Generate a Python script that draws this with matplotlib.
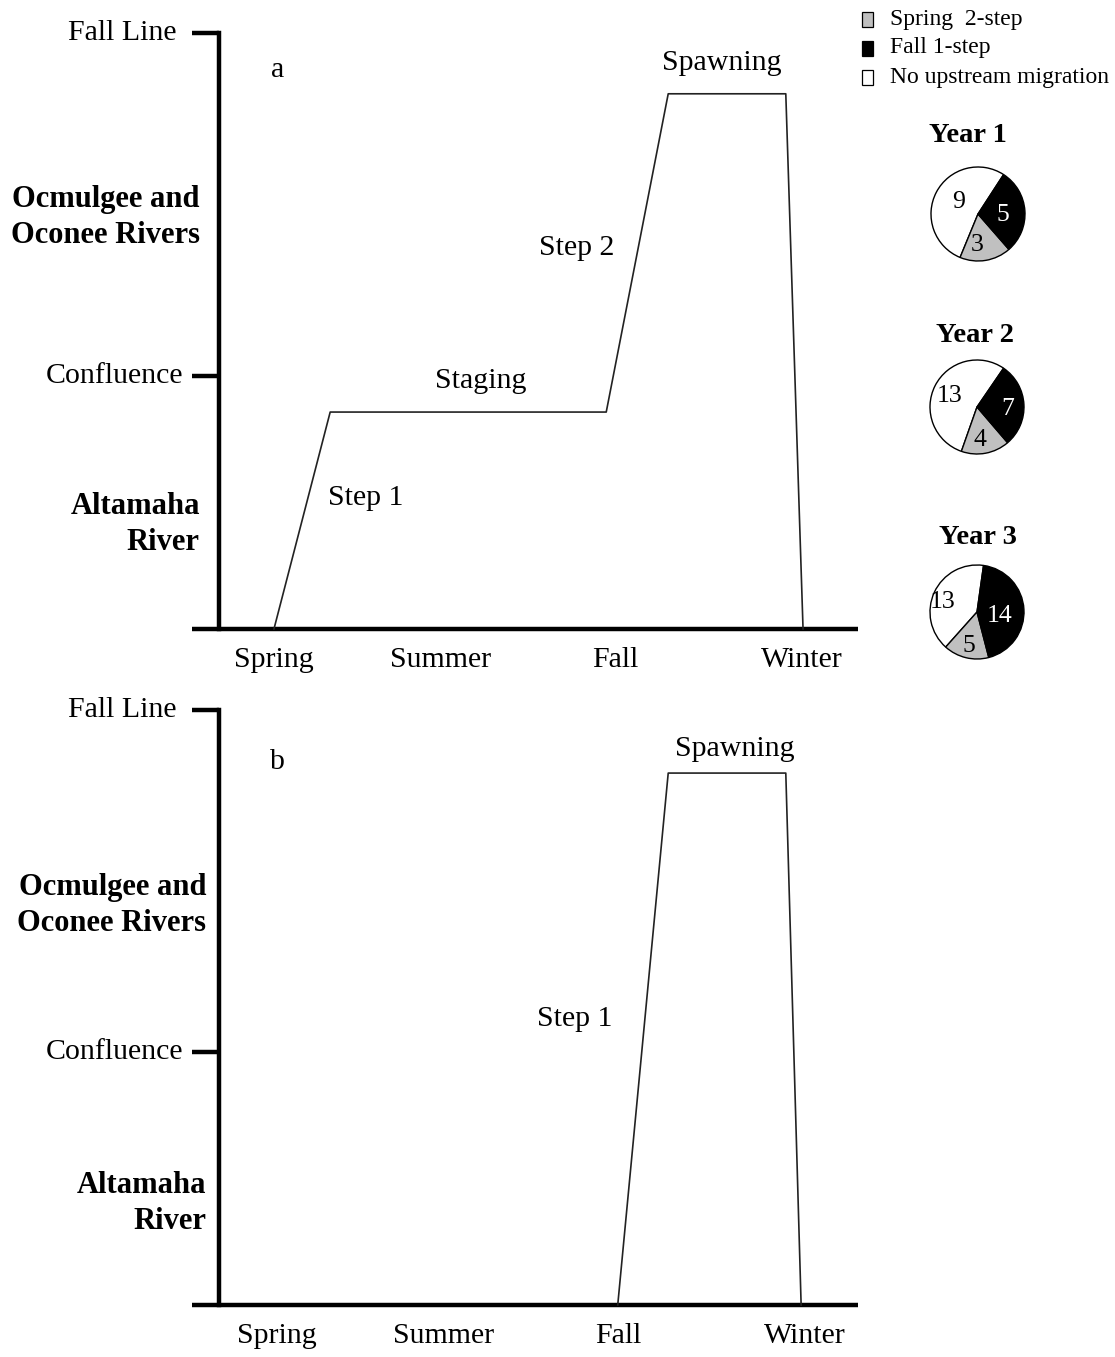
import matplotlib
matplotlib.use("Agg")
import matplotlib.pyplot as plt
from matplotlib.patches import Rectangle
import numpy as np

plt.rcParams['font.family'] = ['Liberation Serif', 'DejaVu Serif']

W, H = 1115, 1357

# ---- data ----
seasons = ["Spring", "Summer", "Fall", "Winter"]
season_time = [8.6, 34.7, 62.0, 91.2]

river_levels = ["Confluence", "Fall Line"]
river_level_pos = [0.425, 1.0]

# panel a: two-step spring migration (time, relative river position)
a_time = [8.6, 17.4, 60.6, 70.3, 88.7, 91.4]
a_pos = [0.0, 0.364, 0.364, 0.898, 0.898, 0.0]

# panel b: one-step fall migration
b_time = [62.4, 70.3, 88.7, 91.1]
b_pos = [0.0, 0.894, 0.894, 0.0]

years = ["Year 1", "Year 2", "Year 3"]
no_upstream = [9, 13, 13]
spring_2step = [3, 4, 5]
fall_1step = [5, 7, 14]

legend_labels = ["Spring  2-step", "Fall 1-step", "No upstream migration"]
colors = {"spring": "#c0c0c0", "fall": "#000000", "none": "#ffffff"}

# ---- layout helpers ----
fig = plt.figure(figsize=(W / 100, H / 100), dpi=100)


def fx(x):
    return x / W


def fy(y):
    return 1 - y / H


FS = 21.5
FSB = 22


def draw_panel(top_px, bottom_px, times, pos, letter, letter_xy, notes,
               region_right, region_y, season_shift):
    left_px, right_px = 219, 858
    ax = fig.add_axes([fx(left_px), fy(bottom_px), (right_px - left_px) / W,
                       (bottom_px - top_px) / H])
    ax.set_xlim(0, 100)
    ax.set_ylim(0, 1)
    ax.axis("off")
    unit = (right_px - left_px) / 100.0
    tick = 27 / unit
    # axes frame
    ax.plot([-tick, 100], [0, 0], color="black", lw=3.2, clip_on=False,
            solid_capstyle="butt")
    ax.plot([0, 0], [0, 1], color="black", lw=3.2, clip_on=False,
            solid_capstyle="projecting")
    for lab, yv in zip(river_levels, river_level_pos):
        ax.plot([-tick, 0], [yv, yv], color="black", lw=3.2, clip_on=False,
                solid_capstyle="butt")
        gap = 16 if lab == "Fall Line" else 9
        ax.text(-tick - gap / unit, yv, lab, ha="right", va="center", fontsize=FS,
                clip_on=False)
    # region names
    ax.text(region_right, region_y[0], "Ocmulgee and\nOconee Rivers", ha="right",
            va="center", fontsize=FSB, fontweight="bold", linespacing=1.32,
            multialignment="right")
    ax.text(region_right, region_y[1], "Altamaha\nRiver", ha="right", va="center",
            fontsize=FSB, fontweight="bold", linespacing=1.32, multialignment="right")
    # seasons
    span = bottom_px - top_px
    for s, t in zip(seasons, season_time):
        ax.text(t + season_shift, -31 / span, s, ha="center", va="center", fontsize=FS,
                clip_on=False)
    # migration path
    ax.plot(times, pos, color="#222222", lw=1.2, clip_on=False)
    ax.text(letter_xy[0], letter_xy[1], letter, ha="center", va="center", fontsize=FS)
    for txt, x, y in notes:
        ax.text(x, y, txt, ha="center", va="center", fontsize=FS)
    return ax


draw_panel(33, 629, a_time, a_pos, "a", (9.1, 0.938),
           [("Spawning", 78.7, 0.950), ("Step 2", 55.9, 0.639),
            ("Staging", 41.0, 0.416), ("Step 1", 23.0, 0.220)],
           -3.0, (0.690, 0.176), 0.0)
draw_panel(710, 1305, b_time, b_pos, "b", (9.1, 0.913),
           [("Spawning", 80.8, 0.934), ("Step 1", 55.7, 0.481)],
           -2.0, (0.672, 0.170), 0.45)

# ---- legend ----
leg_colors = [colors["spring"], colors["fall"], colors["none"]]
for i, (lab, c) in enumerate(zip(legend_labels, leg_colors)):
    yc = 19 + 29 * i
    fig.add_artist(Rectangle((fx(862), fy(yc + 7.5)), 11 / W, 15 / H, facecolor=c,
                             edgecolor="black", lw=0.9, transform=fig.transFigure))
    fig.text(fx(890), fy(yc), lab, ha="left", va="center", fontsize=17)

# ---- pies ----
pie_centers = [(978, 214), (977, 407), (977, 612)]
title_centers = [(968, 136), (975, 335), (978, 538)]
start_angles = [57, 55.6, 82]
# (angle in degrees, radius) for each count label: none, spring, fall
label_spots = [[(148, 0.48), (-92, 0.67), (-2, 0.54)],
               [(158, 0.63), (-85, 0.70), (-4, 0.65)],
               [(164, 0.77), (-103, 0.74), (-10, 0.48)]]
R = 47

for k in range(3):
    cx, cy = pie_centers[k]
    pax = fig.add_axes([fx(cx - R - 2), fy(cy + R + 2), (2 * R + 4) / W, (2 * R + 4) / H])
    vals = [no_upstream[k], spring_2step[k], fall_1step[k]]
    cols = [colors["none"], colors["spring"], colors["fall"]]
    wedges, _ = pax.pie(vals, colors=cols, startangle=start_angles[k], counterclock=True,
                        radius=1.0, wedgeprops=dict(edgecolor="black", linewidth=1.0))
    pax.set_aspect("auto")
    pax.set_xlim(-1 - 2 / R, 1 + 2 / R)
    pax.set_ylim(-1 - 2 / R, 1 + 2 / R)
    pax.axis("off")
    tcols = ["black", "black", "white"]
    for v, (ang, r), tc in zip(vals, label_spots[k], tcols):
        a = np.deg2rad(ang)
        pax.text(r * np.cos(a), r * np.sin(a), str(v), ha="center", va="center",
                 fontsize=18.5, color=tc)
    tx, ty = title_centers[k]
    fig.text(fx(tx), fy(ty), years[k], ha="center", va="center", fontsize=20.5,
             fontweight="bold")

fig.savefig("out.png", dpi=100)
